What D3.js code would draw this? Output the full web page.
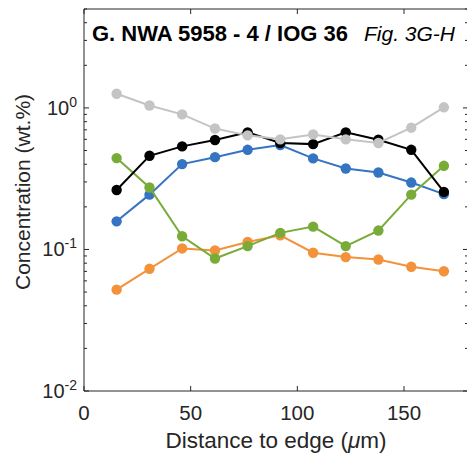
<!DOCTYPE html>
<html><head><meta charset="utf-8">
<script src="https://cdn.jsdelivr.net/npm/d3@7"></script>
<style>body{margin:0;background:#fff}svg{display:block}text{font-family:"Liberation Sans",Arial,sans-serif;fill:#262626}</style>
</head><body>
<script>
const distance = [15.3, 30.7, 46.0, 61.4, 76.7, 92.0, 107.4, 122.7, 138.0, 153.4, 168.7];
const gray   = [1.26, 1.04, 0.90, 0.715, 0.64, 0.60, 0.65, 0.60, 0.565, 0.725, 1.01];
const black  = [0.263, 0.459, 0.535, 0.593, 0.672, 0.565, 0.555, 0.672, 0.596, 0.506, 0.255];
const blue   = [0.158, 0.244, 0.401, 0.449, 0.506, 0.547, 0.44, 0.373, 0.35, 0.297, 0.246];
const green  = [0.442, 0.274, 0.124, 0.0863, 0.1056, 0.131, 0.145, 0.1056, 0.136, 0.244, 0.39];
const orange = [0.052, 0.073, 0.1017, 0.0984, 0.113, 0.126, 0.0948, 0.0883, 0.085, 0.0754, 0.0702];
const xTicks = [0, 50, 100, 150];
const yMajor = [0.01, 0.1, 1];
const yExp = ["-2", "-1", "0"];
const titleMain = "G. NWA 5958 - 4 / IOG 36";
const titleFig = "Fig. 3G-H";

const W = 467, H = 457;
const svg = d3.select("body").append("svg").attr("width", W).attr("height", H);
const x = d3.scaleLinear().domain([0, 180]).range([84, 468]);
const y = d3.scaleLog().domain([0.01, 5]).range([391, 9]);
const axisColor = "#262626";

const minor = [];
[0.01, 0.1, 1].forEach(d => { for (let k = 2; k <= 9; k++) { const v = d * k; if (v <= 5) minor.push(v); } });

const g = svg.append("g");
g.append("line").attr("x1", x(0)).attr("x2", x(180)).attr("y1", y(5)).attr("y2", y(5)).attr("stroke", axisColor);
g.append("line").attr("x1", x(0)).attr("x2", x(180)).attr("y1", y(0.01)).attr("y2", y(0.01)).attr("stroke", axisColor);
g.append("line").attr("x1", x(0)).attr("x2", x(0)).attr("y1", y(5)).attr("y2", y(0.01)).attr("stroke", axisColor);
g.append("line").attr("x1", x(180)).attr("x2", x(180)).attr("y1", y(5)).attr("y2", y(0.01)).attr("stroke", axisColor);

xTicks.forEach(t => {
  g.append("line").attr("x1", x(t)).attr("x2", x(t)).attr("y1", y(0.01)).attr("y2", y(0.01) - 5).attr("stroke", axisColor);
  g.append("line").attr("x1", x(t)).attr("x2", x(t)).attr("y1", y(5)).attr("y2", y(5) + 5).attr("stroke", axisColor);
  g.append("text").attr("x", x(t)).attr("y", 420).attr("text-anchor", "middle").attr("font-size", 20.5).text(t);
});
yMajor.forEach((t, i) => {
  g.append("line").attr("x1", x(0)).attr("x2", x(0) + 5).attr("y1", y(t)).attr("y2", y(t)).attr("stroke", axisColor);
  g.append("line").attr("x1", x(180)).attr("x2", x(180) - 5).attr("y1", y(t)).attr("y2", y(t)).attr("stroke", axisColor);
  const tx = g.append("text").attr("x", 77).attr("y", y(t) + 7).attr("text-anchor", "end").attr("font-size", 20);
  tx.append("tspan").text("10");
  tx.append("tspan").attr("font-size", 14).attr("dy", -8).text(yExp[i]);
});
minor.forEach(t => {
  g.append("line").attr("x1", x(0)).attr("x2", x(0) + 3).attr("y1", y(t)).attr("y2", y(t)).attr("stroke", axisColor);
  g.append("line").attr("x1", x(180)).attr("x2", x(180) - 3).attr("y1", y(t)).attr("y2", y(t)).attr("stroke", axisColor);
});

svg.append("text").attr("x", 276).attr("y", 448).attr("text-anchor", "middle").attr("font-size", 22.5)
  .html('Distance to edge (<tspan font-style="italic">μ</tspan>m)');
svg.append("text").attr("transform", `translate(30,192) rotate(-90)`).attr("text-anchor", "middle").attr("font-size", 21)
  .text("Concentration (wt.%)");

const series = [
  {v: orange, c: "#f3923a"},
  {v: blue, c: "#3574c2"},
  {v: green, c: "#79ab38"},
  {v: black, c: "#000000"},
  {v: gray, c: "#c4c4c4"}
];
const line = d3.line().x((d, i) => x(distance[i])).y(d => y(d));
series.forEach(s => {
  const sg = svg.append("g");
  sg.append("path").datum(s.v).attr("d", line).attr("fill", "none").attr("stroke", s.c).attr("stroke-width", 2);
  sg.selectAll("circle").data(s.v).join("circle")
    .attr("cx", (d, i) => x(distance[i])).attr("cy", d => y(d)).attr("r", 5.2).attr("fill", s.c);
});

const tt = svg.append("text").attr("x", 92).attr("y", 41).attr("font-size", 22);
tt.append("tspan").attr("font-weight", "bold").attr("fill", "#000").text(titleMain);
tt.append("tspan").attr("dx", 16).attr("font-style", "italic").attr("font-size", 21).attr("fill", "#000").text(titleFig);
</script>
</body></html>
